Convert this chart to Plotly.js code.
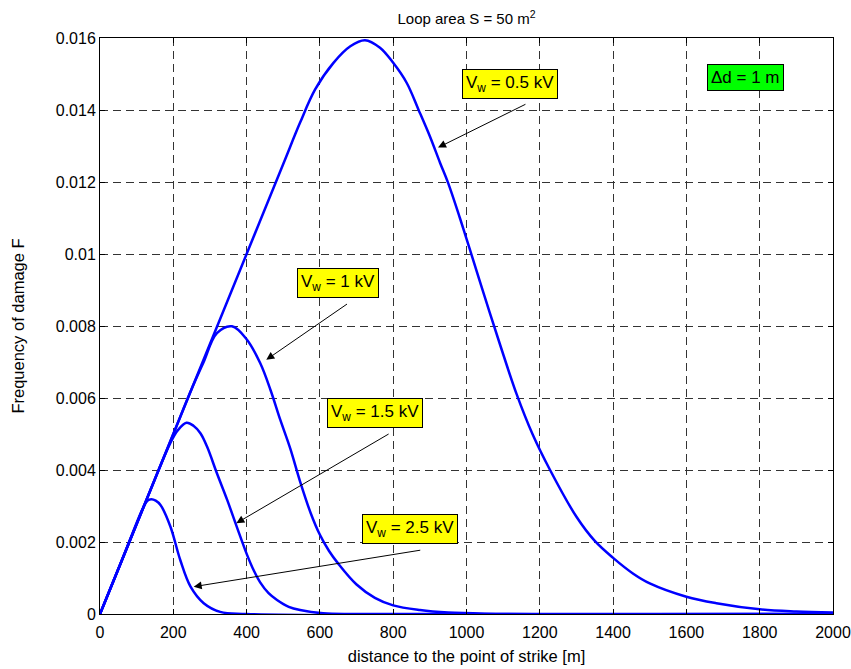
<!DOCTYPE html>
<html>
<head>
<meta charset="utf-8">
<script src="https://cdn.plot.ly/plotly-3.0.1.min.js"></script>
<style>
html, body { margin: 0; padding: 0; background: #fff; }
#chart { width: 851px; height: 669px; }
</style>
</head>
<body>
<div id="chart"></div>
<script>
// Vw = 0.5 kV
const x05 = [0, 100, 200, 300, 400, 500, 546, 587, 637, 683, 723, 764, 800, 837, 869, 900, 928, 950, 982, 1010, 1050, 1091, 1137, 1180, 1228, 1300, 1350, 1400, 1455, 1500, 1600, 1682, 1800, 1900, 2000];
const y05 = [0, 0.0025, 0.005, 0.0075, 0.01, 0.0125, 0.01365, 0.01457, 0.01531, 0.01577, 0.01594, 0.01573, 0.01531, 0.01475, 0.01401, 0.01327, 0.01253, 0.01197, 0.0110, 0.0101, 0.0088, 0.0075, 0.0061, 0.0050, 0.0040, 0.0027, 0.00203, 0.00156, 0.00112, 0.00085, 0.00048, 0.0003, 0.00013, 0.00007, 0.00004];
// Vw = 1 kV
const x10 = [0, 100, 200, 250, 282, 319, 360, 401, 437, 465, 492, 519, 546, 575, 600, 625, 650, 700, 750, 800, 873, 950, 1050, 2000];
const y10 = [0, 0.0025, 0.005, 0.00625, 0.00698, 0.0078, 0.00799, 0.00762, 0.00697, 0.00623, 0.00539, 0.0046, 0.00368, 0.0028, 0.0022, 0.00175, 0.0014, 0.00082, 0.00045, 0.00024, 0.00011, 0.00004, 0.00001, 0];
// Vw = 1.5 kV
const x15 = [0, 100, 192, 212, 236, 255, 274, 292, 319, 347, 374, 401, 420, 437, 460, 483, 515, 546, 609, 700, 2000];
const y15 = [0, 0.0025, 0.00475, 0.0051, 0.00531, 0.00523, 0.00502, 0.00465, 0.00391, 0.00317, 0.0024, 0.00165, 0.0012, 0.00088, 0.00058, 0.00039, 0.0002, 0.00011, 0.00002, 0, 0];
// Vw = 2.5 kV
const x25 = [0, 60, 119, 130, 140, 152, 165, 192, 219, 247, 283, 328, 400, 2000];
const y25 = [0, 0.0015, 0.00298, 0.00315, 0.00319, 0.00315, 0.00303, 0.00243, 0.0015, 0.00076, 0.0003, 0.00006, 0, 0];

const xTicks = [0, 200, 400, 600, 800, 1000, 1200, 1400, 1600, 1800, 2000];
const yTicks = [0, 0.002, 0.004, 0.006, 0.008, 0.01, 0.012, 0.014, 0.016];
const yTickText = ['0', '0.002', '0.004', '0.006', '0.008', '0.01', '0.012', '0.014', '0.016'];

const labels = ['V<sub>w</sub> = 0.5 kV', 'V<sub>w</sub> = 1 kV', 'V<sub>w</sub> = 1.5 kV', 'V<sub>w</sub> = 2.5 kV'];

const FONT = 'Liberation Sans, Arial, Helvetica, sans-serif';
const blue = '#0000ff';

const series = [[x05, y05], [x10, y10], [x15, y15], [x25, y25]];
const traces = series.map(([xs, ys], i) => ({
  x: xs, y: ys, type: 'scatter', mode: 'lines',
  line: { color: blue, width: 2.5, shape: 'spline', smoothing: 1 },
  name: labels[i], showlegend: false, hoverinfo: 'skip'
}));

// box label positions (data coords) and arrows (tail -> head)
const boxes = [
  { t: labels[0], x: 1117.7, y: 0.014735 },
  { t: labels[1], x: 648.5, y: 0.009202 },
  { t: labels[2], x: 750.7, y: 0.005594 },
  { t: labels[3], x: 846, y: 0.002349 }
];
const arrows = [
  { ax: 1164.9, ay: 0.014179, x: 922.3, y: 0.012956 },
  { ax: 678, ay: 0.008638, x: 453.7, y: 0.007062 },
  { ax: 791.6, ay: 0.005024, x: 371.9, y: 0.002522 },
  { ax: 877.9, ay: 0.001779, x: 255.6, y: 0.000759 }
];

const annotations = [];
boxes.forEach(b => annotations.push({
  text: b.t, x: b.x, y: b.y, xref: 'x', yref: 'y', showarrow: false,
  bgcolor: '#ffff00', bordercolor: '#000', borderwidth: 1, borderpad: 3,
  font: { family: FONT, size: 17, color: '#000' }, xanchor: 'center', yanchor: 'middle'
}));
annotations.push({
  text: '\u0394d = 1 m', x: 1760.8, y: 0.01491, xref: 'x', yref: 'y', showarrow: false,
  bgcolor: '#00ff00', bordercolor: '#000', borderwidth: 1, borderpad: 3,
  font: { family: FONT, size: 17, color: '#000' }, xanchor: 'center', yanchor: 'middle'
});
arrows.forEach(a => annotations.push({
  text: '', x: a.x, y: a.y, ax: a.ax, ay: a.ay, xref: 'x', yref: 'y', axref: 'x', ayref: 'y',
  showarrow: true, arrowhead: 2, arrowsize: 1.6, arrowwidth: 1, arrowcolor: '#000', standoff: 0, startstandoff: 0
}));

const axisCommon = {
  showline: true, linecolor: '#000', linewidth: 1, mirror: 'ticks',
  ticks: 'inside', ticklen: 5, tickcolor: '#000', tickwidth: 1,
  showgrid: true, gridcolor: '#333', gridwidth: 1, griddash: '8px,5px',
  zeroline: false, tickfont: { family: FONT, size: 16, color: '#000' }
};

const layout = {
  width: 851, height: 669,
  margin: { l: 100, r: 18, t: 38, b: 55 },
  paper_bgcolor: '#fff', plot_bgcolor: '#fff',
  font: { family: FONT, size: 16, color: '#000' },
  title: { text: 'Loop area S = 50 m<sup>2</sup>', font: { family: FONT, size: 15, color: '#000' },
           x: 0.5, xref: 'paper', xanchor: 'center', y: 0.972, yref: 'container', yanchor: 'middle' },
  xaxis: Object.assign({}, axisCommon, {
    range: [0, 2000], tickvals: xTicks, ticklabelstandoff: 4,
    title: { text: 'distance to the point of strike [m]', font: { family: FONT, size: 16.5, color: '#000' }, standoff: 10 }
  }),
  yaxis: Object.assign({}, axisCommon, {
    range: [0, 0.016], tickvals: yTicks, ticktext: yTickText,
    title: { text: 'Frequency of damage F', font: { family: FONT, size: 16.5, color: '#000' }, standoff: 26 }
  }),
  annotations: annotations
};

Plotly.newPlot('chart', traces, layout, { displayModeBar: false, staticPlot: true });
</script>
</body>
</html>
